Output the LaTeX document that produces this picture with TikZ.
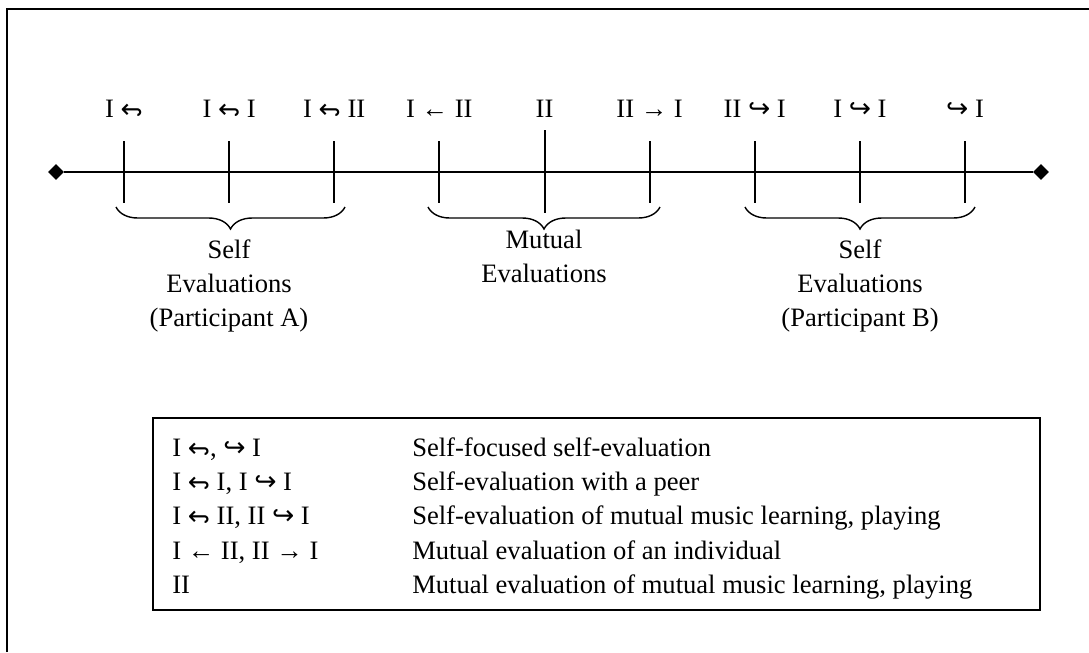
\documentclass[tikz,border=0pt]{standalone}
\usepackage{fontspec}
\setmainfont{Liberation Serif}
\newfontfamily\arrowfont{DejaVu Sans}
\usepackage{graphicx}
\usetikzlibrary{positioning, calc, shapes.geometric, decorations.pathreplacing}

\newcommand{\selfturn}{{\arrowfont\rotatebox[origin=c]{180}{↪}}}
\newcommand{\selfhook}{{\arrowfont ↪}}

\tikzset{
	toplabel/.style={
			anchor=base,
			inner sep=0pt,
			font=\fontsize{18.9}{22}\selectfont
		},
	tickline/.style={
			line width=0.5mm
		},
	axisline/.style={
			line width=0.45mm
		},
	endmark/.style={
			diamond,
			fill=black,
			minimum width=4mm,
			minimum height=4mm,
			inner sep=0pt
		},
	groupbrace/.style={
			decorate,
			decoration={brace, mirror, amplitude=5.5mm},
			line width=0.35mm
		},
	grouplabel/.style={
			align=center,
			anchor=north,
			inner sep=0pt,
			font=\fontsize{18.9}{24}\selectfont
		},
	legendtext/.style={
			anchor=base west,
			inner sep=0pt,
			font=\fontsize{18.9}{24.5}\selectfont
		}
}

\begin{document}
\begin{tikzpicture}[x=0.25mm, y=-0.25mm]
\useasboundingbox (0,0) rectangle (1089,652);
\draw[line width=0.5mm] (7,652) -- (7,9) -- (1089,9);

% axis
\node[endmark] (left) at (56,172) {};
\node[endmark] (right) at (1041,172) {};
\draw[axisline] (left) -- (right);

\foreach \i/\txt in {0/{I \selfturn}, 1/{I \selfturn\ I}, 2/{I \selfturn\ II},
                     3/{I ← II}, 4/{II}, 5/{II → I},
                     6/{II \selfhook\ I}, 7/{I \selfhook\ I}, 8/{\selfhook\ I}} {
  \coordinate (t\i) at ({124+105.125*\i},172);
  \node[toplabel] (lab\i) at ({124+105.125*\i},117) {\txt};
}
\foreach \i in {0,1,2,3,5,6,7,8}
  \draw[tickline] ($(t\i)+(0,-31)$) -- ($(t\i)+(0,31)$);
\draw[tickline] ($(t4)+(0,-42)$) -- ($(t4)+(0,41)$);

% groups
\draw[groupbrace] (116,207) -- (345,207);
\draw[groupbrace] (428,207) -- (660,207);
\draw[groupbrace] (745,207) -- (975,207);
\node[grouplabel] (selfA) at (229,240) {Self\\Evaluations\\(Participant A)};
\node[grouplabel] (mutual) at (544,230) {Mutual\\Evaluations};
\node[grouplabel] (selfB) at (860,240) {Self\\Evaluations\\(Participant B)};

% legend
\draw[line width=0.45mm] (153,418) rectangle (1040,610);
\node[legendtext] (k1) at (172,456) {I \selfturn, \selfhook\ I};
\node[legendtext] (k2) at (172,490) {I \selfturn\ I, I \selfhook\ I};
\node[legendtext] (k3) at (172,524) {I \selfturn\ II, II \selfhook\ I};
\node[legendtext] (k4) at (172,559) {I ← II, II → I};
\node[legendtext] (k5) at (172,593) {II};
\node[legendtext] (d1) at (412,456) {Self-focused self-evaluation};
\node[legendtext] (d2) at (412,490) {Self-evaluation with a peer};
\node[legendtext] (d3) at (412,524) {Self-evaluation of mutual music learning, playing};
\node[legendtext] (d4) at (412,559) {Mutual evaluation of an individual};
\node[legendtext] (d5) at (412,593) {Mutual evaluation of mutual music learning, playing};
\end{tikzpicture}
\end{document}
